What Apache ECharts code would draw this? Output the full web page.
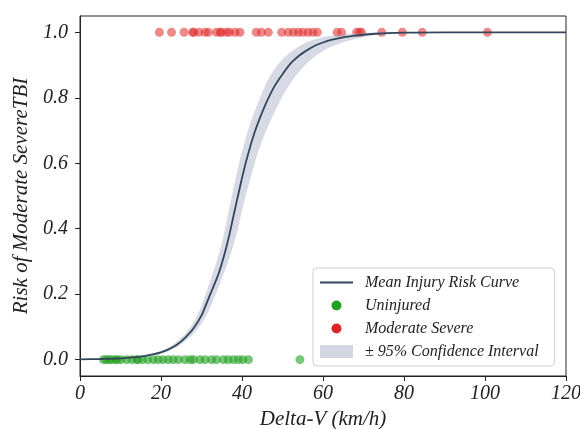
<!DOCTYPE html>
<html><head><meta charset="utf-8">
<script src="https://cdn.jsdelivr.net/npm/echarts@6/dist/echarts.min.js"></script>
<style>html,body{margin:0;padding:0;background:#fff}#c{width:580px;height:429px}</style>
</head><body><div id="c"></div>
<script>
var curveX = [0,5,10,15,18,20,22,24,26,28,30,32,34,35,36,37,38,39,40,41,42,43,44,46,48,50,52,54,56,58,60,62,65,68,72,80,90,100,120];
var curveY = [0.0005,0.002,0.004,0.009,0.016,0.022,0.032,0.046,0.067,0.095,0.135,0.195,0.255,0.293,0.337,0.388,0.445,0.50,0.555,0.605,0.65,0.69,0.725,0.785,0.835,0.872,0.905,0.928,0.945,0.959,0.969,0.977,0.985,0.99,0.995,0.999,1.0,1.0,1.0];
var ciLo = [0,0.0017,0.003,0.0075,0.013,0.018,0.027,0.039,0.056,0.079,0.11,0.155,0.215,0.247,0.28,0.315,0.355,0.40,0.455,0.505,0.55,0.595,0.635,0.70,0.755,0.805,0.845,0.878,0.905,0.926,0.943,0.956,0.97,0.98,0.99,0.997,0.9995,1,1];
var ciHi = [0.001,0.0025,0.005,0.011,0.019,0.027,0.038,0.056,0.08,0.113,0.165,0.235,0.31,0.355,0.41,0.47,0.53,0.585,0.635,0.68,0.72,0.755,0.786,0.845,0.888,0.918,0.94,0.957,0.97,0.979,0.986,0.99,0.994,0.997,0.999,1,1,1,1];
var uninjuredX = [5.8,6.5,7.2,7.8,8.8,9.2,10.1,11.5,12.8,14.0,14.3,15.4,16.7,18.1,19.3,20.5,21.8,23.0,24.3,25.9,27.2,28.0,29.6,30.9,32.5,33.7,35.4,36.6,37.9,39.1,40.2,41.6,54.3];
var severeX = [19.6,22.6,25.7,27.8,28.1,29.4,30.9,31.7,33.7,34.6,35.0,36.2,36.9,38.3,39.5,43.5,44.8,46.5,49.8,51.4,52.7,53.9,55.0,56.3,57.5,58.6,63.5,64.6,68.3,69.0,69.5,74.5,79.6,84.5,100.6];
var yTicks = [0,0.2,0.4,0.6,0.8,1.0];
var xTicks = [0,20,40,60,80,100,120];

var FONT = 'Liberation Serif';
var chart = echarts.init(document.getElementById('c'), null, {renderer:'canvas'});

var ciData = curveX.map(function(x,i){return [x, ciLo[i], ciHi[i]];});
var meanData = curveX.map(function(x,i){return [x, curveY[i]];});

var dotIcon = 'path://M0,0 M33,13 M11.5,6.5 A5,5 0 1,0 21.5,6.5 A5,5 0 1,0 11.5,6.5 Z';
var lineIcon = 'path://M0,0 M33,13 M0,5.6 L33,5.6 L33,7.4 L0,7.4 Z';

chart.setOption({
  animation:false,
  backgroundColor:'#fff',
  grid:{left:80,right:14,top:16,bottom:53,outerBoundsMode:'none',containLabel:false,show:true,borderColor:'#222',borderWidth:1,backgroundColor:'transparent'},
  xAxis:{type:'value',min:0,max:120,interval:20,
    name:'Delta-V (km/h)',nameLocation:'middle',nameGap:25,
    nameTextStyle:{fontFamily:FONT,fontStyle:'italic',fontSize:21,color:'#222'},
    axisLine:{show:true,onZero:false,lineStyle:{color:'#222'}},
    axisTick:{show:true,length:5,lineStyle:{color:'#222'}},
    axisLabel:{fontFamily:FONT,fontStyle:'italic',fontSize:20,color:'#222',margin:8,
      customValues:xTicks},
    splitLine:{show:false}},
  yAxis:{type:'value',min:-0.05,max:1.05,
    name:'Risk of Moderate SevereTBI',nameLocation:'middle',nameGap:44,
    nameTextStyle:{fontFamily:FONT,fontStyle:'italic',fontSize:21,color:'#222'},
    axisLine:{show:true,onZero:false,lineStyle:{color:'#222'}},
    axisTick:{show:true,length:5,lineStyle:{color:'#222'},customValues:yTicks},
    axisLabel:{fontFamily:FONT,fontStyle:'italic',fontSize:20,color:'#222',margin:12,
      customValues:yTicks,formatter:function(v){return v.toFixed(1);}},
    splitLine:{show:false}},
  legend:{orient:'vertical',left:313,top:268,
    padding:[6,16,6,7],itemGap:6,itemWidth:33,itemHeight:13,
    borderColor:'#cfcfcf',borderWidth:1,borderRadius:4,backgroundColor:'rgba(255,255,255,0.85)',
    textStyle:{fontFamily:FONT,fontStyle:'italic',fontSize:16,color:'#222',lineHeight:17,padding:[0,0,0,7]},
    data:[
      {name:'Mean Injury Risk Curve',icon:lineIcon,itemStyle:{color:'#34465a'}},
      {name:'Uninjured',icon:dotIcon,itemStyle:{color:'#22a022',opacity:1}},
      {name:'Moderate Severe',icon:dotIcon,itemStyle:{color:'#dc2626',opacity:1}},
      {name:'\u00b1 95% Confidence Interval',icon:'rect'}
    ]},
  series:[
    {name:'Uninjured',type:'scatter',symbol:'circle',symbolSize:9,z:2,
      itemStyle:{color:'#22a022',opacity:0.6},
      data:uninjuredX.map(function(x){return [x,0];})},
    {name:'Moderate Severe',type:'scatter',symbol:'circle',symbolSize:9,z:2,
      itemStyle:{color:'#e02828',opacity:0.55},
      data:severeX.map(function(x){return [x,1];})},
    {name:'\u00b1 95% Confidence Interval',type:'custom',z:3,
      itemStyle:{color:'#d4d7e2'},
      encode:{x:0,y:[1,2]},
      data:ciData,
      renderItem:function(params,api){
        if(params.dataIndex!==0) return null;
        var pts=[],i;
        for(i=0;i<ciData.length;i++) pts.push(api.coord([ciData[i][0],ciData[i][2]]));
        for(i=ciData.length-1;i>=0;i--) pts.push(api.coord([ciData[i][0],ciData[i][1]]));
        return {type:'polygon',shape:{points:pts,smooth:0.2},style:{fill:'rgba(160,166,192,0.42)'}};
      }},
    {name:'Mean Injury Risk Curve',type:'line',z:4,symbol:'none',showSymbol:false,
      smooth:0.25,
      lineStyle:{color:'#34465a',width:1.8},itemStyle:{color:'#34465a'},
      data:meanData}
  ]
});
</script></body></html>
